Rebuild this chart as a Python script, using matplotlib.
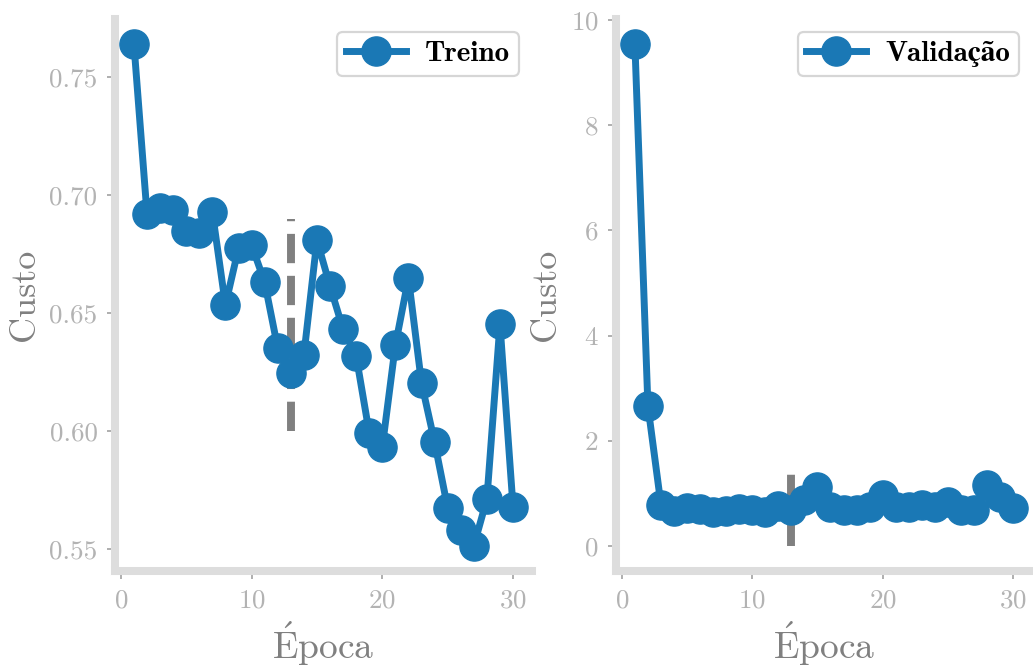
import matplotlib
matplotlib.use("Agg")
import matplotlib.pyplot as plt

# ── Data ──────────────────────────────────────────────────────────────────────
epocas = list(range(1, 31))
custo_treino = [0.764, 0.692, 0.6945, 0.6936, 0.6847, 0.6839, 0.6928, 0.6534, 0.6775, 0.6788,
                0.6631, 0.6352, 0.6246, 0.6322, 0.6809, 0.6614, 0.6432, 0.6318, 0.5992, 0.5932,
                0.6364, 0.6648, 0.6203, 0.5953, 0.5674, 0.5581, 0.5513, 0.5712, 0.6453, 0.5678]
custo_valid = [9.54, 2.66, 0.78, 0.67, 0.72, 0.70, 0.65, 0.67, 0.70, 0.68,
               0.65, 0.76, 0.68, 0.88, 1.12, 0.74, 0.68, 0.68, 0.74, 0.96,
               0.74, 0.74, 0.78, 0.74, 0.84, 0.68, 0.68, 1.16, 0.93, 0.72]
melhor_epoca = 13
faixa_treino = (0.60, 0.69)
faixa_valid = (0.0, 1.37)

# ── Style ─────────────────────────────────────────────────────────────────────
AZUL = "#1a78b5"
plt.rcParams["font.family"] = ["cmr10", "STIXGeneral"]
plt.rcParams["mathtext.fontset"] = "cm"
plt.rcParams["axes.formatter.use_mathtext"] = True

fig = plt.figure(figsize=(10.33, 6.68), dpi=100)
ax_t = fig.add_axes([0.1113, 0.1452, 0.4037, 0.8263])
ax_v = fig.add_axes([0.5963, 0.1452, 0.4027, 0.8263])


def estilo(ax, rotulo, faixa, ticks):
    ax.plot(epocas, rotulo[1], "-o", color=AZUL, lw=5, ms=21, label=rotulo[0], zorder=3)
    ax.plot([melhor_epoca, melhor_epoca], faixa, ls="--", color="#808080", lw=5.7, zorder=2)
    for s in ("top", "right"):
        ax.spines[s].set_visible(False)
    for s in ("left", "bottom"):
        ax.spines[s].set_color("#dddddd")
        ax.spines[s].set_linewidth(5.8)
    ax.set_xticks([0, 10, 20, 30])
    ax.set_yticks(ticks)
    ax.tick_params(length=6, width=1.1, color="#999999", labelcolor="#b3b3b3",
                   labelsize=19.5, pad=6.5)
    ax.set_xlabel(r"$\mathrm{\acute{E}poca}$", fontsize=27, color="#808080", labelpad=5)
    ax.set_ylabel("Custo", fontsize=26, color="#808080", labelpad=6)
    leg = ax.legend(loc="upper right", handlelength=2.05, borderaxespad=0.45, borderpad=0.3,
                    prop={"family": ["cmb10", "STIXGeneral"], "size": 21, "weight": "bold"},
                    frameon=True, fancybox=True, handletextpad=0.65)
    leg.get_frame().set_edgecolor("#cccccc")
    leg.get_frame().set_linewidth(1.6)
    for t in leg.get_texts():
        t.set_color("black")


estilo(ax_t, ("Treino", custo_treino), faixa_treino, [0.55, 0.60, 0.65, 0.70, 0.75])
ax_t.set_yticklabels(["0.55", "0.60", "0.65", "0.70", "0.75"])
estilo(ax_v, ("Validação", custo_valid), faixa_valid, [0, 2, 4, 6, 8, 10])

fig.savefig("out.png", dpi=100)
